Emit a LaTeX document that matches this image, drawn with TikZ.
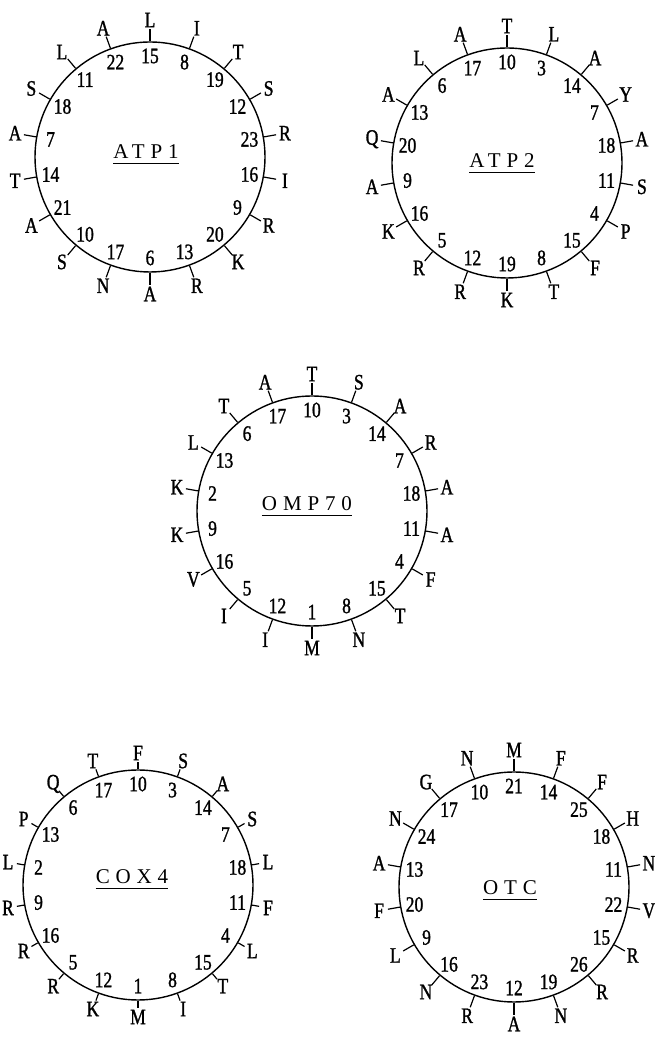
\documentclass[tikz,border=0pt]{standalone}
\usepackage{fontspec}
\setmainfont{Liberation Serif}
\newfontfamily\labfont[FakeStretch=0.8,FakeBold=1.2]{Liberation Serif}
\newfontfamily\titfont[LetterSpace=28]{Liberation Serif}
\usetikzlibrary{calc}
\tikzset{
  wheelcircle/.style={draw, circle, line width=1.4pt, minimum size=230pt, inner sep=0pt},
  restick/.style={line width=1.2pt},
  numlab/.style={font=\labfont\fontsize{22}{22}\selectfont, inner sep=0pt},
  reslab/.style={font=\labfont\fontsize{22}{22}\selectfont, inner sep=0pt},
  wtitle/.style={font=\titfont\fontsize{21}{21}\selectfont, inner sep=0pt},
  uline/.style={line width=1.1pt},
}
% name, x, y, top residue, label radius, list
\newcommand\wheel[6]{%
  \node[wheelcircle] (#1) at (#2pt,#3pt) {};
  \pgfmathsetmacro\tickend{#5-9}
  \foreach \n/\lt in {#6} {
    \pgfmathsetmacro\ang{mod(90-(\n-#4)*100+3600,360)}
    \draw[restick] (#1.\ang) -- ($(#1.center)+(\ang:\tickend pt)$) coordinate (#1-t\n);
    \node[reslab] (#1-r\n) at ($(#1.center)+(\ang:#5pt)$) {\lt};
    \node[numlab] (#1-n\n) at ($(#1.center)+(\ang:101pt)$) {\n};
  }
}
\newcommand\wtitle[4]{%
  \node[wtitle] (#1) at (#2pt,#3pt) {#4};
  \draw[uline] ($(#1.base west)+(0,-5pt)$) -- ($(#1.base east)+(0,-5pt)$);
}
\begin{document}
\begin{tikzpicture}
\useasboundingbox (0,0) rectangle (654pt,1041pt);
% ATP1
\wheel{atp1}{150}{884}{15}{137}{6/A,7/A,8/I,9/R,10/S,11/L,12/S,13/R,14/T,15/L,16/I,17/N,18/S,19/T,20/K,21/A,22/A,23/R}
\wtitle{atp1-title}{146}{889}{ATP1}
% ATP2
\wheel{atp2}{507}{878}{10}{137}{3/L,4/P,5/R,6/L,7/Y,8/T,9/A,10/T,11/S,12/R,13/A,14/A,15/F,16/K,17/A,18/A,19/K,20/Q}
\wtitle{atp2-title}{502}{880}{ATP2}
% OMP70
\wheel{omp}{312}{530}{10}{137}{1/M,2/K,3/S,4/F,5/I,6/T,7/R,8/N,9/K,10/T,11/A,12/I,13/L,14/A,15/T,16/V,17/A,18/A}
\wtitle{omp-title}{307}{537}{OMP70}
% COX4
\wheel{cox}{138}{156}{10}{132}{1/M,2/L,3/S,4/L,5/R,6/Q,7/S,8/I,9/R,10/F,11/F,12/K,13/P,14/A,15/T,16/R,17/T,18/L}
\wtitle{cox-title}{132}{164}{COX4}
% OTC
\wheel{otc}{514}{154}{21}{137}{9/L,10/N,11/N,12/A,13/A,14/F,15/R,16/N,17/G,18/H,19/N,20/F,21/M,22/V,23/R,24/N,25/F,26/R}
\wtitle{otc-title}{510}{153}{OTC}
\end{tikzpicture}
\end{document}
